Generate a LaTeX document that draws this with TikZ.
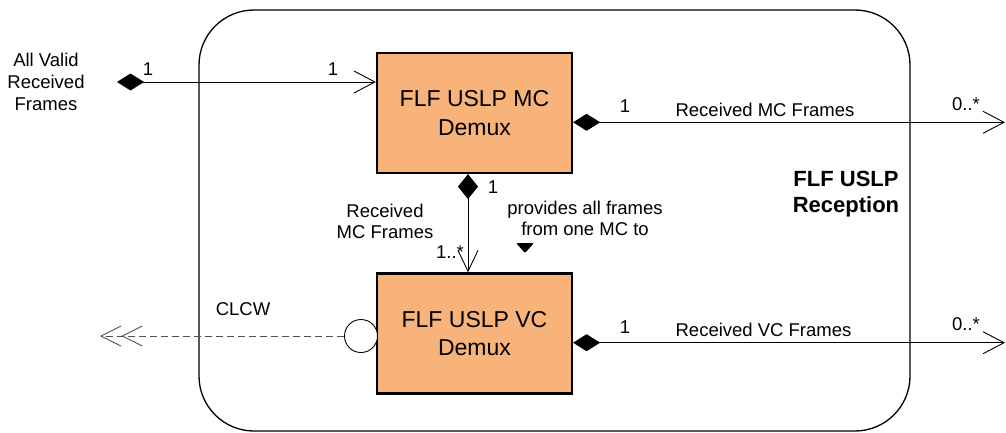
\documentclass[tikz,border=0pt]{standalone}
\usepackage{fontspec}
\setmainfont{Liberation Sans}
\usetikzlibrary{arrows.meta}
\definecolor{boxfill}{RGB}{248,179,123}
\definecolor{dashgray}{RGB}{80,80,80}
\tikzset{
  lbl/.style={inner sep=0pt, font=\fontsize{18.5}{21.5}\selectfont},
  lblbase/.style={lbl, anchor=base},
  demux/.style={draw=black, line width=2.2pt, fill=boxfill, minimum width=195pt, minimum height=120pt,
    align=center, inner sep=0pt, font=\fontsize{23}{28.5}\selectfont},
  assoc/.style={line width=0.9pt, {Diamond[length=27pt,width=17pt]}-{Straight Barb[length=21pt,width=22pt]}},
  vassoc/.style={line width=0.9pt, {Diamond[length=25pt,width=20pt]}-{Straight Barb[length=21pt,width=20pt]}},
  depend/.style={line width=0.9pt, draw=dashgray, dash pattern=on 7pt off 4pt,
    -{Straight Barb[length=20pt,width=20pt,sep=0pt]Straight Barb[length=20pt,width=20pt,sep=0pt]}},
}
\begin{document}
\begin{tikzpicture}[x=1pt,y=-1pt]
\useasboundingbox (0,0) rectangle (1006,432);
% container
\node[draw=black, line width=1.3pt, rounded corners=55pt, minimum width=711pt, minimum height=421pt, inner sep=0pt]
  (sys) at (554.5,220.5) {};
\node[inner sep=0pt, align=center, font=\fontsize{22}{26.5}\selectfont\bfseries] (title) at (846,194.3) {FLF USLP\\Reception};

% boxes
\node[demux] (mc) at (474.5,113) {FLF USLP MC\\Demux};
\node[demux] (vc) at (474.5,333.5) {FLF USLP VC\\Demux};

% input
\node[lbl, align=center, font=\fontsize{18.5}{22}\selectfont] (avr) at (46,81.4) {All Valid\\Received\\Frames};
\coordinate (src) at (117,82);
\draw[assoc] (src) -- (src -| mc.west);
\node[lblbase] (m1) at (148,75) {1};
\node[lblbase] (m2) at (333,75) {1};

% MC frames out
\coordinate (mcout) at (1005,122.3);
\draw[assoc] (mcout -| mc.east) -- (mcout);
\node[lblbase] (m3) at (625,112.7) {1};
\node[lblbase] (l1) at (765,116.7) {Received MC Frames};
\node[lblbase] (m4) at (966,110.7) {0..*};

% VC frames out
\coordinate (vcout) at (1005,342.7);
\draw[assoc] (vcout -| vc.east) -- (vcout);
\node[lblbase] (m5) at (625,333.3) {1};
\node[lblbase] (l2) at (763.5,336.7) {Received VC Frames};
\node[lblbase] (m6) at (966,330.7) {0..*};

% MC -> VC
\coordinate (vx) at (468,0);
\draw[vassoc] (vx |- mc.south) -- (vx |- vc.north);
\node[lblbase] (m7) at (493,193) {1};
\node[lblbase] (m8) at (450,258) {1..*};
\node[lbl, align=center] (l3) at (385,221.4) {Received\\MC Frames};
\node[lbl, align=center] (l4) at (585,218.3) {provides all frames\\from one MC to};
\fill[rounded corners=1.2pt] (516,243) -- (534,243) -- (525,253) -- cycle;

% CLCW
\node[draw=black, line width=0.9pt, circle, minimum size=33pt, inner sep=0pt, fill=white] (clcw) at (361,336) {};
\coordinate (clcwend) at (100,336);
\draw[depend] (clcw.west) -- (clcwend);
\node[lblbase] (l5) at (243,315) {CLCW};
\end{tikzpicture}
\end{document}
